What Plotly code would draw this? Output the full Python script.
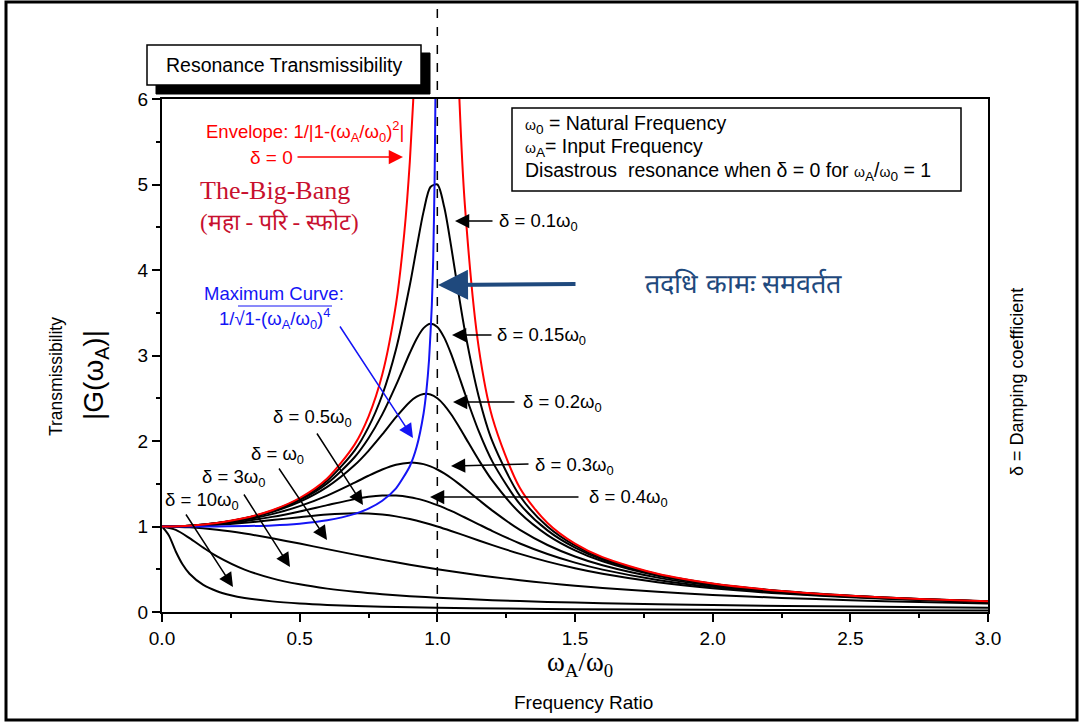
import plotly.graph_objects as go

# ---------------- data ----------------
X_RES = [0, 0.1, 0.2, 0.3, 0.4, 0.5, 0.6, 0.7, 0.75, 0.8, 0.85, 0.9, 0.925, 0.95, 0.975,
         1.0, 1.025, 1.05, 1.075, 1.1, 1.15, 1.2, 1.3, 1.4, 1.5, 1.6, 1.8, 2.0, 2.25, 2.5, 2.75, 3.0]
G_010 = [1.0, 1.0099, 1.0408, 1.0965, 1.1851, 1.3216, 1.5357, 1.8908, 2.1621, 2.5384, 3.0728, 3.8208,
         4.2614, 4.6826, 4.9713, 5.0, 4.7357, 4.2794, 3.7677, 3.2880, 2.5245, 1.9952, 1.3562, 1.0,
         0.7779, 0.6280, 0.4408, 0.3304, 0.2447, 0.1896, 0.1518, 0.1247]
G_015 = [1.0, 1.0096, 1.0396, 1.0936, 1.1785, 1.3074, 1.5041, 1.8131, 2.0327, 2.3113, 2.6534, 3.0289,
         3.1968, 3.3199, 3.3711, 3.3333, 3.2088, 3.0188, 2.7926, 2.5566, 2.1174, 1.7590, 1.2617,
         0.9543, 0.7527, 0.6127, 0.4340, 0.3269, 0.2428, 0.1886, 0.1512, 0.1242]
G_020 = [1.0, 1.0093, 1.0381, 1.0895, 1.1695, 1.2883, 1.4630, 1.7188, 1.8851, 2.0761, 2.2785, 2.4566,
         2.5178, 2.5490, 2.5438, 2.5, 2.4206, 2.3130, 2.1868, 2.0511, 1.7800, 1.5357, 1.1574, 0.8998,
         0.7212, 0.5931, 0.4250, 0.3221, 0.2403, 0.1871, 0.1503, 0.1236]
G_030 = [1.0, 1.0083, 1.0336, 1.0780, 1.1447, 1.2380, 1.3618, 1.5136, 1.5933, 1.6667, 1.7223, 1.7469,
         1.7438, 1.7293, 1.7034, 1.6667, 1.6205, 1.5667, 1.5071, 1.4438, 1.3129, 1.1851, 0.9603,
         0.7839, 0.6492, 0.5459, 0.4021, 0.3095, 0.2336, 0.1831, 0.1478, 0.1220]
G_040 = [1.0, 1.0068, 1.0275, 1.0626, 1.1125, 1.1765, 1.25, 1.3203, 1.3467, 1.3618, 1.3616, 1.3429,
         1.3263, 1.3051, 1.2795, 1.25, 1.2172, 1.1817, 1.1442, 1.1053, 1.0258, 0.9469, 0.8012,
         0.6779, 0.5771, 0.4956, 0.3755, 0.2941, 0.2251, 0.1780, 0.1445, 0.1197]

X_050 = [0, 0.1, 0.2, 0.3, 0.4, 0.5, 0.6, 0.7, 0.75, 0.8, 0.85, 0.9, 0.95, 1.0, 1.05, 1.1, 1.2,
         1.3, 1.4, 1.5, 1.6, 1.8, 2.0, 2.25, 2.5, 2.75, 3.0]
G_050 = [1.0, 1.0050, 1.0198, 1.0436, 1.0748, 1.1094, 1.1399, 1.1546, 1.1517, 1.1399, 1.1184, 1.0871,
         1.0471, 1.0, 0.9479, 0.8930, 0.7824, 0.6795, 0.5891, 0.5121, 0.4475, 0.3480, 0.2774,
         0.2153, 0.1720, 0.1405, 0.1170]

X_100 = [0, 0.1, 0.2, 0.3, 0.4, 0.5, 0.6, 0.7, 0.8, 0.9, 1.0, 1.1, 1.2, 1.3, 1.4, 1.5, 1.6, 1.8,
         2.0, 2.25, 2.5, 2.75, 3.0]
G_100 = [1.0, 0.9901, 0.9615, 0.9174, 0.8621, 0.8, 0.7353, 0.6711, 0.6098, 0.5525, 0.5, 0.4525,
         0.4098, 0.3717, 0.3378, 0.3077, 0.2809, 0.2358, 0.2, 0.1649, 0.1379, 0.1168, 0.1]

X_300 = [0, 0.05, 0.1, 0.15, 0.2, 0.3, 0.4, 0.5, 0.6, 0.7, 0.8, 0.9, 1.0, 1.2, 1.4, 1.6, 1.8,
         2.0, 2.5, 3.0]
G_300 = [1.0, 0.9600, 0.8638, 0.7526, 0.6507, 0.4958, 0.3933, 0.3234, 0.2735, 0.2364, 0.2077,
         0.1851, 0.1667, 0.1386, 0.1183, 0.1028, 0.0907, 0.0808, 0.0629, 0.0508]

X_1000 = [0, 0.025, 0.05, 0.075, 0.1, 0.15, 0.2, 0.25, 0.3, 0.4, 0.5, 0.6, 0.8, 1.0, 1.25, 1.5,
          2.0, 2.5, 3.0]
G_1000 = [1.0, 0.8949, 0.7080, 0.5557, 0.4481, 0.3169, 0.2431, 0.1966, 0.1648, 0.1243, 0.0997,
          0.0832, 0.0625, 0.05, 0.0400, 0.0333, 0.0249, 0.0199, 0.0165]

X_MAX = [0, 0.2, 0.4, 0.5, 0.6, 0.7, 0.75, 0.8, 0.85, 0.9, 0.925, 0.95, 0.96, 0.97, 0.98, 0.985,
         0.99, 0.993, 0.995]
G_MAX = [1.0, 1.0008, 1.0130, 1.0328, 1.0719, 1.1472, 1.2095, 1.3015, 1.4464, 1.7053, 1.9320,
         2.3219, 2.5764, 2.9526, 3.5891, 4.1289, 5.0380, 6.0073, 7.098]

X_ENV = [0, 0.1, 0.2, 0.3, 0.4, 0.5, 0.6, 0.7, 0.75, 0.8, 0.85, 0.88, 0.9, 0.92, 0.94, None,
         1.06, 1.08, 1.1, 1.15, 1.2, 1.3, 1.4, 1.5, 1.6, 1.8, 2.0, 2.25, 2.5, 2.75, 3.0]
G_ENV = [1.0, 1.0101, 1.0417, 1.0989, 1.1905, 1.3333, 1.5625, 1.9608, 2.2857, 2.7778, 3.6036,
         4.4326, 5.2632, 6.5104, 8.591, None,
         8.0906, 6.0096, 4.7619, 3.1008, 2.2727, 1.4493, 1.0417, 0.8, 0.641, 0.4464, 0.3333,
         0.2462, 0.1905, 0.1524, 0.125]

X_TICKS = [0, 0.5, 1.0, 1.5, 2.0, 2.5, 3.0]
X_TICK_TEXT = ["0.0", "0.5", "1.0", "1.5", "2.0", "2.5", "3.0"]
Y_TICKS = [0, 1, 2, 3, 4, 5, 6]

# ---------------- geometry helpers ----------------
W, H = 1082, 727
L, R, T, B = 162, 988, 99, 612
XMAX, YMAX = 3.0, 6.0


def pxp(p):  # pixel x -> paper
    return (p - L) / (R - L)


def pyp(p):  # pixel y -> paper
    return (B - p) / (B - T)


def dxv(p):  # pixel x -> data
    return (p - L) / (R - L) * XMAX


def dyv(p):  # pixel y -> data
    return (B - p) / (B - T) * YMAX


SANS = "Liberation Sans, Arial, sans-serif"
NARROW = "Liberation Sans Narrow, Arial Narrow, Liberation Sans, sans-serif"
SERIF = "Liberation Serif, Times New Roman, serif"
RED = "#FF0000"
BLUE = "#1414F5"
CRIMSON = "#C8102E"
NAVY = "#1F497D"

fig = go.Figure()

black_series = [(X_1000, G_1000), (X_300, G_300), (X_100, G_100), (X_050, G_050),
                (X_RES, G_040), (X_RES, G_030), (X_RES, G_020), (X_RES, G_015), (X_RES, G_010)]
for xs, ys in black_series:
    fig.add_trace(go.Scatter(x=xs, y=ys, mode="lines",
                             line=dict(color="black", width=2, shape="spline", smoothing=0.8),
                             showlegend=False, hoverinfo="skip"))

fig.add_trace(go.Scatter(x=X_MAX, y=G_MAX, mode="lines",
                         line=dict(color=BLUE, width=2, shape="spline", smoothing=0.6),
                         showlegend=False, hoverinfo="skip"))
fig.add_trace(go.Scatter(x=X_ENV, y=G_ENV, mode="lines", connectgaps=False,
                         line=dict(color=RED, width=2, shape="spline", smoothing=0.8),
                         showlegend=False, hoverinfo="skip"))

shapes = []
annotations = []


def text(px, py, s, size=16, color="black", family=SANS, xanchor="left", angle=0):
    annotations.append(dict(xref="paper", yref="paper", x=pxp(px), y=pyp(py), text=s,
                            showarrow=False, xanchor=xanchor, yanchor="middle",
                            font=dict(size=size, color=color, family=family),
                            textangle=angle))


def arrow(x0, y0, x1, y1, color="black", width=1.5, size=1.9, head=2):
    annotations.append(dict(xref="x", yref="y", x=dxv(x1), y=dyv(y1), ax=x0 - x1, ay=y0 - y1,
                            axref="pixel", ayref="pixel", text="", showarrow=True,
                            arrowhead=head, arrowsize=size, arrowwidth=width,
                            arrowcolor=color, standoff=0, startstandoff=0))


W_SM = "<span style='font-size:14px'>ω</span>"

# outer frame
shapes.append(dict(type="rect", xref="paper", yref="paper", x0=pxp(6), x1=pxp(1077),
                   y0=pyp(720), y1=pyp(2), line=dict(color="black", width=3)))
# dashed line at resonance
shapes.append(dict(type="line", xref="x", yref="paper", x0=1.0, x1=1.0, y0=0, y1=pyp(2),
                   line=dict(color="black", width=1.5, dash="dash"), layer="above"))
# title box with shadow
shapes.append(dict(type="rect", xref="paper", yref="paper", x0=pxp(156), x1=pxp(430),
                   y0=pyp(94), y1=pyp(53), fillcolor="black", line=dict(color="black", width=1)))
shapes.append(dict(type="rect", xref="paper", yref="paper", x0=pxp(147), x1=pxp(421),
                   y0=pyp(85), y1=pyp(45), fillcolor="white", line=dict(color="black", width=1.5)))
text(284, 65, "Resonance Transmissibility", size=19.5, xanchor="center")
# info box
shapes.append(dict(type="rect", xref="paper", yref="paper", x0=pxp(512), x1=pxp(961),
                   y0=pyp(191), y1=pyp(108), fillcolor="white", line=dict(color="black", width=1.5)))
text(523, 124, W_SM + "<sub>0</sub> = Natural Frequency", size=19.5)
text(523, 147, W_SM + "<sub>A</sub>= Input Frequency", size=19.5)
text(523, 171, "Disastrous  resonance when δ = 0 for " + W_SM + "<sub>A</sub>/" + W_SM
     + "<sub>0</sub> = 1", size=19.5)

# envelope annotation
text(204, 131, "Envelope: 1/|1-(ω<sub>A</sub>/ω<sub>0</sub>)<sup>2</sup>|", size=18.5, color=RED)
text(248, 157, "δ = 0", size=19, color=RED)
arrow(296, 157, 403, 157, color=RED, width=1.5, size=1.9)
text(198, 190, "The-Big-Bang", size=26, color=CRIMSON, family=SERIF)
text(198, 222, "(महा - परि - स्फोट)", size=23, color=CRIMSON, family=SERIF)

# maximum curve annotation
text(202, 293, "Maximum Curve:", size=18.5, color=BLUE)
text(217, 318, "1/√1-(ω<sub>A</sub>/ω<sub>0</sub>)<sup>4</sup>", size=18.5, color=BLUE)
shapes.append(dict(type="line", xref="paper", yref="paper", x0=pxp(238), x1=pxp(332),
                   y0=pyp(306), y1=pyp(306), line=dict(color=BLUE, width=1)))
arrow(339, 325, 413, 438, color=BLUE, width=1.5, size=1.9)

# Devanagari caption and arrow
arrow(577, 284, 438, 285, color=NAVY, width=4, size=1.5)
text(643, 283, "तदधि कामः समवर्तत", size=27, color=NAVY)

# damping labels
labels = [
    (497, 222, "δ = 0.1ω<sub>0</sub>", (494, 221, 455, 221)),
    (495, 336, "δ = 0.15ω<sub>0</sub>", (493, 335, 452, 335)),
    (521, 403, "δ = 0.2ω<sub>0</sub>", (516, 402, 453, 402)),
    (533, 466, "δ = 0.3ω<sub>0</sub>", (530, 464, 451, 466)),
    (587, 498, "δ = 0.4ω<sub>0</sub>", (580, 497, 430, 497)),
    (271, 418, "δ = 0.5ω<sub>0</sub>", (316, 432, 363, 505)),
    (249, 455, "δ = ω<sub>0</sub>", (278, 467, 327, 540)),
    (200, 478, "δ = 3ω<sub>0</sub>", (243, 493, 290, 567)),
    (163, 501, "δ = 10ω<sub>0</sub>", (185, 513, 233, 587)),
]
for lx, ly, s, (a0, b0, a1, b1) in labels:
    text(lx, ly, s, size=18.5)
    arrow(a0, b0, a1, b1)

# axis titles
text(1017, 382, "δ = Damping coefficient", size=18, xanchor="center", angle=-90)
text(56, 377, "Transmissibility", size=17.5, xanchor="center", angle=-90)
text(95, 375, "|G(ω<sub>A</sub>)|", size=28, xanchor="center", angle=-90)
text(580, 664, "ω<sub>A</sub>/ω<sub>0</sub>", size=27, family=SERIF, xanchor="center")
text(583, 702, "Frequency Ratio", size=19, family=NARROW, xanchor="center")

axis_common = dict(showgrid=False, zeroline=False, showline=True, linecolor="black", linewidth=2,
                   mirror=True, ticks="outside", ticklen=8, tickwidth=1.5, tickcolor="black",
                   tickfont=dict(size=19, family=NARROW, color="black"))

fig.update_layout(
    width=W, height=H, autosize=False,
    margin=dict(l=L, r=W - R, t=T, b=H - B, pad=0),
    paper_bgcolor="white", plot_bgcolor="white",
    xaxis=dict(range=[0, XMAX], tickvals=X_TICKS, ticktext=X_TICK_TEXT,
               minor=dict(dtick=0.25, ticks="outside", ticklen=4, tickwidth=1.5, tickcolor="black",
                          showgrid=False),
               **axis_common),
    yaxis=dict(range=[0, YMAX], tickvals=Y_TICKS,
               minor=dict(dtick=0.5, ticks="outside", ticklen=4, tickwidth=1.5, tickcolor="black",
                          showgrid=False),
               **axis_common),
    shapes=shapes, annotations=annotations, showlegend=False,
)

fig.write_html("out.html", config={"displayModeBar": False},
               post_script="document.body.style.margin='0';document.body.style.overflow='hidden';")
